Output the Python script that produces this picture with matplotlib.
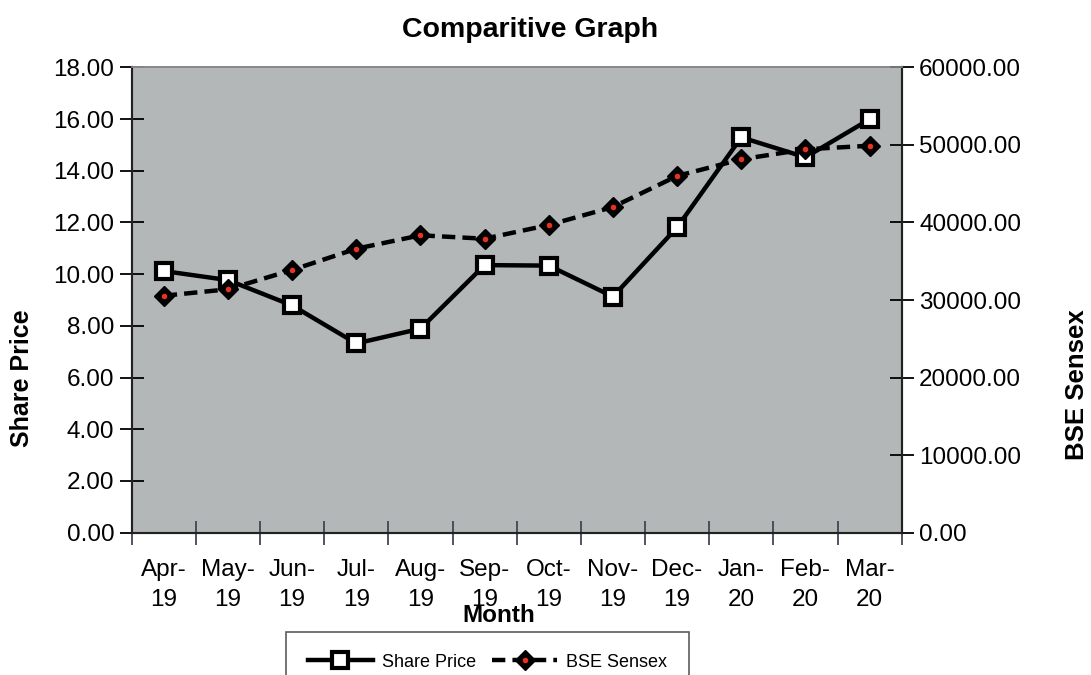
import matplotlib
matplotlib.use("Agg")
import matplotlib.pyplot as plt
from matplotlib.legend_handler import HandlerTuple
from matplotlib.ticker import FormatStrFormatter, MultipleLocator, FixedLocator

plt.rcParams["font.family"] = ["Liberation Sans", "DejaVu Sans"]

months = ["Apr-\n19", "May-\n19", "Jun-\n19", "Jul-\n19", "Aug-\n19", "Sep-\n19",
          "Oct-\n19", "Nov-\n19", "Dec-\n19", "Jan-\n20", "Feb-\n20", "Mar-\n20"]
share_price = [10.12, 9.77, 8.79, 7.32, 7.89, 10.35, 10.33, 9.13, 11.81, 15.29, 14.52, 15.99]
bse_sensex = [30550, 31380, 33870, 36610, 38340, 37900, 39670, 41990, 45990, 48140, 49430, 49890]

fig = plt.figure(figsize=(10.91, 6.75), dpi=100)
ax = fig.add_axes([0.1207, 0.2108, 0.7058, 0.6895])
ax.set_facecolor("#b4b7b8")
ax2 = ax.twinx()

x = list(range(len(months)))
sp_line, = ax.plot(x, share_price, color="black", linewidth=3.2, marker="s",
                   markersize=12, markerfacecolor="white", markeredgecolor="black",
                   markeredgewidth=3, zorder=3)
bse_line, = ax2.plot(x, bse_sensex, color="black", linewidth=3.2, linestyle=(0, (3, 1.6)),
                     marker="D", markersize=10.5, markerfacecolor="black",
                     markeredgecolor="black", zorder=3)
bse_dot, = ax2.plot(x, bse_sensex, linestyle="none", marker="o", markersize=3,
                    color="#e8321e", zorder=4)

ax.set_xlim(-0.5, len(months) - 0.5)
ax.set_ylim(0, 18)
ax2.set_ylim(0, 60000)
ax.yaxis.set_major_locator(MultipleLocator(2))
ax2.yaxis.set_major_locator(MultipleLocator(10000))
ax.yaxis.set_major_formatter(FormatStrFormatter("%.2f"))
ax2.yaxis.set_major_formatter(FormatStrFormatter("%.2f"))

ax.set_xticks(x)
ax.set_xticklabels(months, fontsize=17.5, linespacing=1.45)
ax.xaxis.set_minor_locator(FixedLocator([i - 0.5 for i in range(len(months) + 1)]))
ax.tick_params(axis="x", which="major", length=0, pad=19)
ax.tick_params(axis="x", which="minor", length=17, direction="inout", width=1.3, color="#444455")
ax.tick_params(axis="y", length=17, direction="inout", width=1.3, labelsize=17.5, pad=4)
ax2.tick_params(axis="y", length=17, direction="inout", width=1.3, labelsize=17.5, pad=4)

for a in (ax, ax2):
    for side in ("left", "right", "bottom"):
        a.spines[side].set_linewidth(1.5)
        a.spines[side].set_color("#222222")
    a.spines["top"].set_color("#888888")
    a.spines["top"].set_linewidth(1.2)

fig.text(0.486, 0.955, "Comparitive Graph", ha="center", va="center",
         fontsize=20.5, fontweight="bold")
fig.text(0.457, 0.088, "Month", ha="center", va="center", fontsize=17.5, fontweight="bold")
fig.text(0.020, 0.44, "Share Price", ha="center", va="center", rotation=90,
         fontsize=18, fontweight="bold")
fig.text(0.987, 0.43, "BSE Sensex", ha="center", va="center", rotation=90,
         fontsize=18.5, fontweight="bold")

# legend box runs off the bottom edge, like the source image
leg = fig.legend([sp_line, (bse_line, bse_dot)], ["Share Price", "BSE Sensex"],
                 handler_map={tuple: HandlerTuple(ndivide=1, pad=0)},
                 loc="upper center", bbox_to_anchor=(0.447, 0.0637), ncol=2,
                 fontsize=13, frameon=True, fancybox=False, edgecolor="#333333",
                 borderpad=1.2, borderaxespad=0, handlelength=3.6, handletextpad=0.5,
                 columnspacing=0.9)
leg.get_frame().set_linewidth(1.2)

fig.savefig("out.png", dpi=100)
